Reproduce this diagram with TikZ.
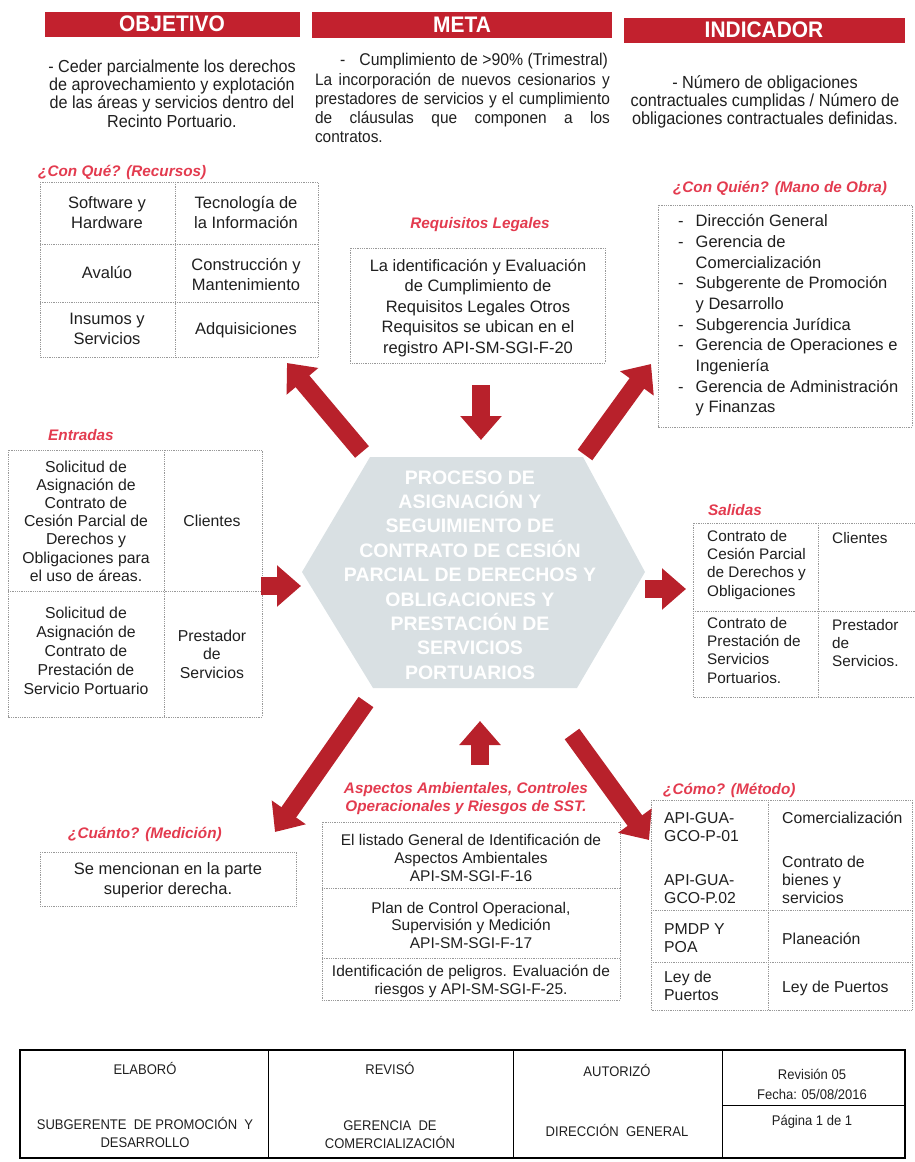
\documentclass[tikz,border=0pt]{standalone}
\usepackage{fontspec}
\setmainfont{Liberation Sans}
\newfontfamily\angosta[FakeStretch=0.93]{Liberation Sans}
\usetikzlibrary{arrows.meta, positioning, calc}
\definecolor{RojoBarra}{rgb}{0.76, 0.13, 0.18}
\definecolor{RojoTitulo}{rgb}{0.89, 0.23, 0.31}
\definecolor{RojoFlecha}{rgb}{0.72, 0.13, 0.17}
\definecolor{GrisHex}{rgb}{0.85, 0.88, 0.89}
\definecolor{GrisLinea}{rgb}{0.60, 0.60, 0.60}

\tikzset{
  barra/.style={fill=RojoBarra, text=white, font=\angosta\fontsize{22.5}{23}\selectfont\bfseries, inner sep=0pt},
  titulo/.style={font=\fontsize{15.3}{18}\selectfont\bfseries\itshape, text=RojoTitulo, inner sep=0pt},
  celda/.style={draw=GrisLinea, densely dotted, line width=0.8pt},
  txt/.style={align=center, inner sep=0pt},
  flecha/.style={RojoFlecha, line width=18pt, -{Triangle[width=40pt, length=24pt]}},
  firma/.style={font=\angosta\fontsize{14}{18}\selectfont, align=center, inner sep=0pt},
}

\begin{document}
\begin{tikzpicture}[x=1pt, y=-1pt, font=\fontsize{16}{18}\selectfont, text=black!88]
\useasboundingbox (0,0) rectangle (915,1162);

% encabezados
\node[barra, minimum width=255pt, minimum height=25pt] (objetivo) at (172,24) {OBJETIVO};
\node[barra, minimum width=300pt, minimum height=26pt] (meta) at (462,25) {META};
\node[barra, minimum width=281pt, minimum height=25pt] (indicador) at (764,30) {INDICADOR};

\node[txt, font=\angosta\fontsize{17.4}{18.4}\selectfont] (objtxt) at (172,93.5)
    {- Ceder parcialmente los derechos\\de aprovechamiento y explotación\\de las áreas y servicios dentro del\\Recinto Portuario.};
\node[txt, font=\angosta\fontsize{17}{18.4}\selectfont] (metatxt) at (474,61)
    {-\hspace{14pt}Cumplimiento de >90\% (Trimestral)};
\node[inner sep=0pt, text width=295pt, align=justify, font=\angosta\fontsize{16.6}{18.7}\selectfont] (metapar) at (462.5,108)
    {La incorporación de nuevos cesionarios y\linebreak prestadores de servicios y el cumplimiento\linebreak de cláusulas que componen a los\linebreak contratos.};
\node[txt, font=\angosta\fontsize{17.5}{18.2}\selectfont] (indtxt) at (765,102)
    {- Número de obligaciones\\contractuales cumplidas / Número de\\obligaciones contractuales definidas.};

% con que (recursos)
\node[titulo, anchor=west] (recTit) at (38,172) {¿Con Qué? (Recursos)};
\draw[celda] (40,182) rectangle (318,357);
\draw[celda] (175,182) -- (175,357);
\foreach \y in {244,302}{
    \draw[celda] (40,\y) -- (318,\y);
}
\foreach \n/\x/\y/\t in {%
    recA/107/213/{Software y\\Hardware},
    recB/246/213/{Tecnología de\\la Información},
    recC/107/273/{Avalúo},
    recD/246/275/{Construcción y\\Mantenimiento},
    recE/107/329/{Insumos y\\Servicios},
    recF/246/330/{Adquisiciones}}{%
    \node[txt, font=\fontsize{16.5}{20}\selectfont] (\n) at (\x,\y) {\t};
}

% requisitos legales
\node[titulo] (reqTit) at (480,225) {Requisitos Legales};
\draw[celda] (350,248) rectangle (605,363);
\node[txt, font=\fontsize{16.5}{20.5}\selectfont] (reqtxt) at (478,308)
    {La identificación y Evaluación\\de Cumplimiento de\\Requisitos Legales Otros\\Requisitos se ubican en el\\registro API-SM-SGI-F-20};

% con quien (mano de obra)
\node[titulo] (quienTit) at (780,188) {¿Con Quién? (Mano de Obra)};
\draw[celda] (658,205) rectangle (912,427);
\node[inner sep=0pt, anchor=north west, font=\fontsize{16.5}{20.7}\selectfont] (quientxt) at (678,212)
    {\begin{tabular}{@{}l@{\hspace{12pt}}l@{}}
     - & Dirección General\\
     - & Gerencia de\\
       & Comercialización\\
     - & Subgerente de Promoción\\
       & y Desarrollo\\
     - & Subgerencia Jurídica\\
     - & Gerencia de Operaciones e\\
       & Ingeniería\\
     - & Gerencia de Administración\\
       & y Finanzas
     \end{tabular}};

% proceso central
\fill[GrisHex] (302,572) -- (370,457) -- (583,457) -- (645,572) -- (577,688) -- (373,688) -- cycle;
\node[txt, text=white, font=\fontsize{19.5}{24.4}\selectfont\bfseries] (proceso) at (470,575)
    {PROCESO DE\\ASIGNACIÓN Y\\SEGUIMIENTO DE\\CONTRATO DE CESIÓN\\PARCIAL DE DERECHOS Y\\OBLIGACIONES Y\\PRESTACIÓN DE\\SERVICIOS\\PORTUARIOS};

% entradas
\node[titulo, anchor=west] (entTit) at (48,435) {Entradas};
\draw[celda] (8,450) rectangle (262,717);
\draw[celda] (164,450) -- (164,717);
\draw[celda] (8,591) -- (262,591);
\node[txt, font=\fontsize{15.8}{18.2}\selectfont] (entA) at (86,521)
    {Solicitud de\\Asignación de\\Contrato de\\Cesión Parcial de\\Derechos y\\Obligaciones para\\el uso de áreas.};
\node[txt, font=\fontsize{15.8}{18}\selectfont] (entB) at (212,521) {Clientes};
\node[txt, font=\fontsize{15.8}{19}\selectfont] (entC) at (86,651)
    {Solicitud de\\Asignación de\\Contrato de\\Prestación de\\Servicio Portuario};
\node[txt, font=\fontsize{15.8}{18.5}\selectfont] (entD) at (212,654) {Prestador\\de\\Servicios};

% salidas
\node[titulo, anchor=west] (salTit) at (708,510) {Salidas};
\draw[celda] (693,523) rectangle (915,697);
\draw[celda] (818,523) -- (818,697);
\draw[celda] (693,611) -- (915,611);
\node[inner sep=0pt, align=left, anchor=north west, font=\fontsize{15.3}{18.3}\selectfont] (salA) at (707,530)
    {Contrato de\\Cesión Parcial\\de Derechos y\\Obligaciones};
\node[inner sep=0pt, anchor=north west, font=\fontsize{15.3}{18.3}\selectfont] (salB) at (832,532) {Clientes};
\node[inner sep=0pt, align=left, anchor=north west, font=\fontsize{15.3}{18.3}\selectfont] (salC) at (707,617)
    {Contrato de\\Prestación de\\Servicios\\Portuarios.};
\node[inner sep=0pt, align=left, anchor=north west, font=\fontsize{15.3}{18.3}\selectfont] (salD) at (832,619)
    {Prestador\\de\\Servicios.};

% cuanto (medicion)
\node[titulo, anchor=west] (cuantoTit) at (68,834) {¿Cuánto? (Medición)};
\draw[celda] (40,852) rectangle (296,906);
\node[txt, font=\fontsize{16.5}{20}\selectfont] (cuantotxt) at (168,880)
    {Se mencionan en la parte\\superior derecha.};

% aspectos ambientales
\node[titulo, align=center] (aspTit) at (466,799)
    {Aspectos Ambientales, Controles\\Operacionales y Riesgos de SST.};
\draw[celda] (322,822) rectangle (620,1000);
\foreach \y in {888,958}{
    \draw[celda] (322,\y) -- (620,\y);
}
\node[txt, font=\fontsize{15.5}{18}\selectfont] (aspA) at (471,858)
    {El listado General de Identificación de\\Aspectos Ambientales\\API-SM-SGI-F-16};
\node[txt, font=\fontsize{15.5}{17.5}\selectfont] (aspB) at (471,925)
    {Plan de Control Operacional,\\Supervisión y Medición\\API-SM-SGI-F-17};
\node[txt, font=\fontsize{15.5}{18}\selectfont] (aspC) at (471,981)
    {Identificación de peligros. Evaluación de\\riesgos y API-SM-SGI-F-25.};

% como (metodo)
\node[titulo, anchor=west] (comoTit) at (663,790) {¿Cómo? (Método)};
\draw[celda] (651,800) rectangle (912,1010);
\draw[celda] (768,800) -- (768,1010);
\foreach \y in {910,962}{
    \draw[celda] (651,\y) -- (912,\y);
}
\foreach \n/\x/\y/\t in {%
    comoA/664/827/{API-GUA-\\GCO-P-01},
    comoB/782/818/{Comercialización},
    comoC/664/889/{API-GUA-\\GCO-P.02},
    comoD/782/880/{Contrato de\\bienes y\\servicios},
    comoE/664/938/{PMDP Y\\POA},
    comoF/782/939/{Planeación},
    comoG/664/986/{Ley de\\Puertos},
    comoH/782/988/{Ley de Puertos}}{%
    \node[inner sep=0pt, align=left, anchor=west, font=\fontsize{15.8}{18}\selectfont] (\n) at (\x,\y) {\t};
}

% flechas alrededor del proceso
\coordinate (fRecA) at (362,452);  \coordinate (fRecB) at (287,363);
\coordinate (fReqA) at (481,385);  \coordinate (fReqB) at (481,440);
\coordinate (fQuiA) at (585,455);  \coordinate (fQuiB) at (651,364);
\coordinate (fEntA) at (261,586);  \coordinate (fEntB) at (301,586);
\coordinate (fSalA) at (645,589);  \coordinate (fSalB) at (686,589);
\coordinate (fAspA) at (480,765);  \coordinate (fAspB) at (480,721);
\coordinate (fCuaA) at (366,702);  \coordinate (fCuaB) at (275,832);
\coordinate (fComA) at (572,734);  \coordinate (fComB) at (649,840);
\foreach \a/\b in {fRecA/fRecB, fReqA/fReqB, fQuiA/fQuiB, fEntA/fEntB,
                   fSalA/fSalB, fAspA/fAspB, fCuaA/fCuaB, fComA/fComB}{
    \draw[flecha] (\a) -- (\b);
}

% cuadro de firmas
\draw[line width=1.8pt] (20,1050) rectangle (905,1158);
\foreach \x in {268,513,722}{
    \draw[line width=1pt] (\x,1050) -- (\x,1158);
}
\draw[line width=1pt] (722,1105) -- (905,1105);
\foreach \n/\x/\y/\t in {%
    elaboro/145/1068/{ELABORÓ},
    revisoTit/390/1068/{REVISÓ},
    autorizo/617/1070/{AUTORIZÓ},
    revision/812/1084/{Revisión 05\\[2pt]Fecha: 05/08/2016},
    pagina/812/1122/{Página 1 de 1},
    elabNom/145/1132/{SUBGERENTE\ \ DE PROMOCIÓN\ \ Y\\DESARROLLO},
    revNom/390/1135/{GERENCIA\ \ DE\\COMERCIALIZACIÓN},
    autNom/617/1130/{DIRECCIÓN\ \ GENERAL}}{%
    \node[firma] (\n) at (\x,\y) {\t};
}

\end{tikzpicture}
\end{document}
